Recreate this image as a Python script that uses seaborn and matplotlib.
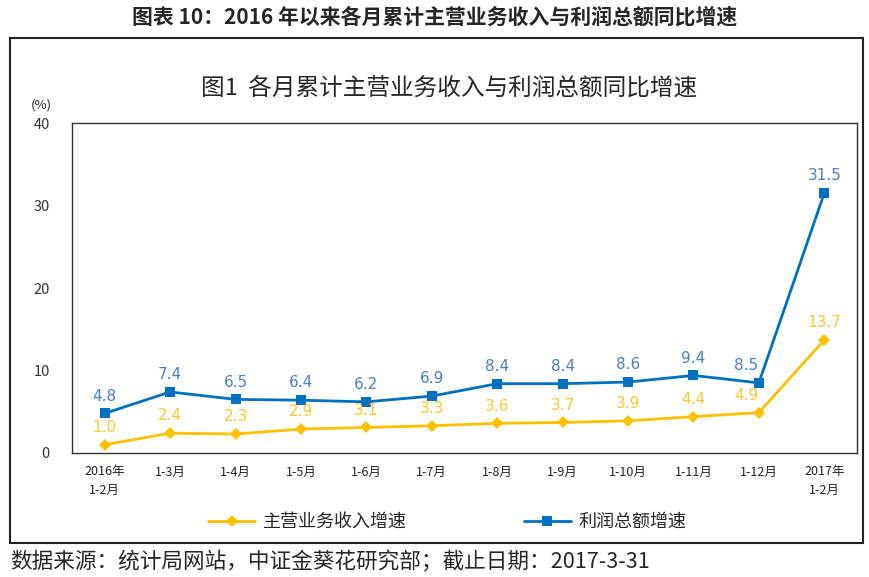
import numpy as np
import pandas as pd
import matplotlib
matplotlib.use("Agg")
import matplotlib.pyplot as plt
import seaborn as sns
from matplotlib.patches import Rectangle

# 数据：各月累计同比增速（%）
months = ["2016年\n1-2月", "1-3月", "1-4月", "1-5月", "1-6月", "1-7月",
          "1-8月", "1-9月", "1-10月", "1-11月", "1-12月", "2017年\n1-2月"]
revenue_growth = [1.0, 2.4, 2.3, 2.9, 3.1, 3.3, 3.6, 3.7, 3.9, 4.4, 4.9, 13.7]
profit_growth = [4.8, 7.4, 6.5, 6.4, 6.2, 6.9, 8.4, 8.4, 8.6, 9.4, 8.5, 31.5]
series_names = ["主营业务收入增速", "利润总额增速"]
yticks = [0, 10, 20, 30, 40]

YELLOW = "#FFC000"
YELLOW_TXT = "#FFC72C"
BLUE = "#0070C0"
BLUE_TXT = "#4A7EC8"

sns.set_theme(style="white")
plt.rcParams["font.family"] = ["Noto Sans CJK SC", "DejaVu Sans"]

df = pd.DataFrame({
    "idx": list(range(len(months))) * 2,
    "value": revenue_growth + profit_growth,
    "series": [series_names[0]] * len(months) + [series_names[1]] * len(months),
})

fig = plt.figure(figsize=(8.7, 5.77), dpi=100)
ax = fig.add_axes([72 / 870, 124 / 577, 785 / 870, 330 / 577])

sns.lineplot(data=df, x="idx", y="value", hue="series", style="series",
             palette=[YELLOW, BLUE], markers=["D", "s"], dashes=False,
             markersize=6.5, linewidth=2, markeredgewidth=0, ax=ax, sort=False)


def label_dx(i):
    # 倒数第二个点的标签往左挪一点，避免压到折线
    return -9 if i == len(months) - 2 else 0


# 数据标签
for i, v in enumerate(revenue_growth):
    ax.annotate(f"{v:.1f}", (i, v), xytext=(label_dx(i), 7), textcoords="offset points",
                ha="center", va="bottom", color=YELLOW_TXT, fontsize=11,
                family=["DejaVu Sans"])
for i, v in enumerate(profit_growth):
    ax.annotate(f"{v:.1f}", (i, v), xytext=(label_dx(i), 7), textcoords="offset points",
                ha="center", va="bottom", color=BLUE_TXT, fontsize=11,
                family=["DejaVu Sans"])

ax.set_xlim(-0.5, len(months) - 0.5)
ax.set_ylim(0, 40)
ax.set_yticks(yticks)
ax.set_yticklabels([str(t) for t in yticks], fontsize=10.5, color="#333333")
ax.tick_params(axis="y", direction="out", length=6, width=1, color="#333333", pad=10)
ax.set_xticks(range(len(months)))
ax.set_xticklabels(months, fontsize=9, color="#222222", linespacing=1.5)
ax.tick_params(axis="x", which="major", length=0, pad=9)
ax.set_xticks(np.arange(0.5, len(months) - 0.5, 1), minor=True)
ax.tick_params(axis="x", which="minor", direction="in", length=4, width=1, color="#333333")
for s in ax.spines.values():
    s.set_color("#333333")
    s.set_linewidth(1)
ax.set_xlabel("")
ax.set_ylabel("")
ax.text(-0.053, 1.035, "(%)", transform=ax.transAxes, fontsize=9.5, ha="left", va="bottom")

handles, labels = ax.get_legend_handles_labels()
ax.legend(handles, labels, loc="center", bbox_to_anchor=(0.478, -0.209), ncol=2,
          frameon=False, fontsize=13, columnspacing=6.5, handlelength=2.6,
          handletextpad=0.4)

# 外框与标题
fig.patches.append(Rectangle((10 / 870, 34 / 577), 853 / 870, 505 / 577,
                             transform=fig.transFigure, fill=False,
                             edgecolor="#222222", linewidth=1.5))
fig.text(0.5, 1 - 17 / 577, "图表 10：2016 年以来各月累计主营业务收入与利润总额同比增速",
         ha="center", va="center", fontsize=15, fontweight="bold")
fig.text(449 / 870, 1 - 88 / 577, "图1  各月累计主营业务收入与利润总额同比增速",
         ha="center", va="center", fontsize=17)
fig.text(10 / 870, 1 - 562 / 577, "数据来源：统计局网站，中证金葵花研究部；截止日期：2017-3-31",
         ha="left", va="center", fontsize=15.6)

fig.savefig("out.png", dpi=100)
